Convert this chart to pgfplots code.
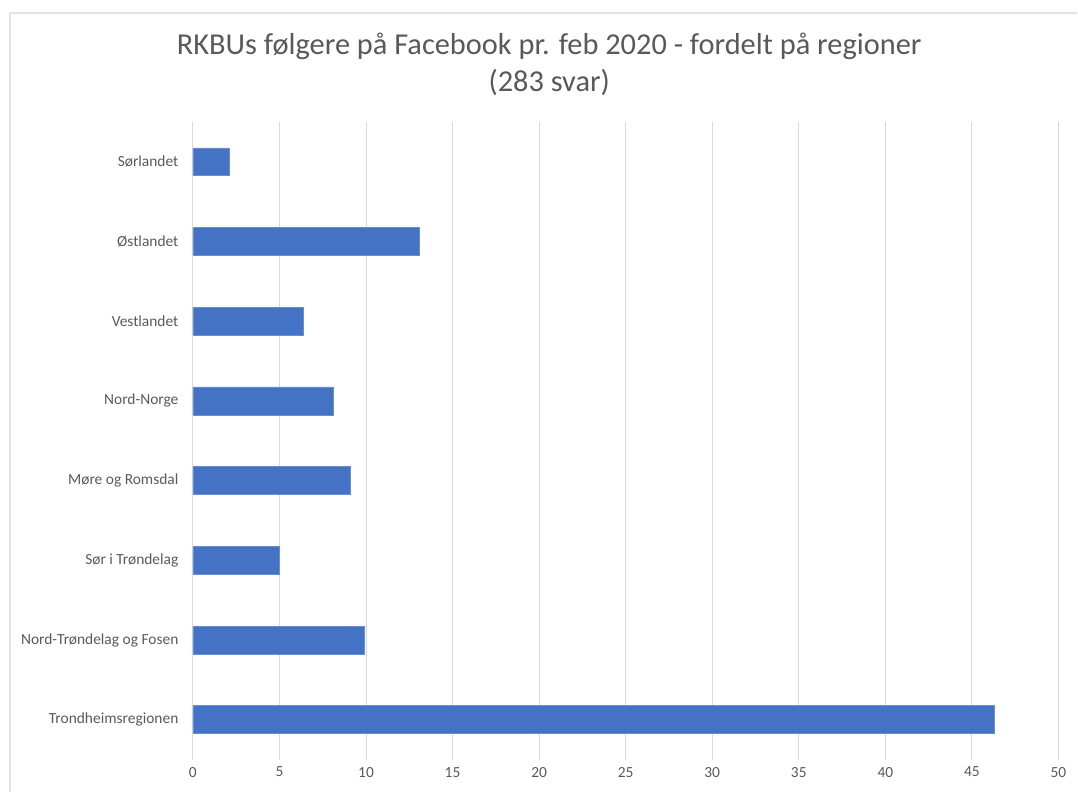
\documentclass[border=0pt]{standalone}
\usepackage{fontspec}
\setmainfont{Carlito}
\usepackage{pgfplots}
\pgfplotsset{compat=1.18}
\definecolor{barblue}{HTML}{4472C4}
\definecolor{txt}{HTML}{595959}
\definecolor{gridgray}{HTML}{D9D9D9}
\definecolor{framegray}{HTML}{E3E3E3}
\begin{document}
\begin{tikzpicture}[x=1bp,y=1bp]
\path (0,0) rectangle (1078,792);
\draw[framegray, line width=1.2bp] (10,0) -- (10,779) -- (1078,779);
\node[txt, font=\fontsize{30.5}{37}\selectfont, align=center] at (549.5,728) {RKBUs følgere på Facebook pr. feb 2020 - fordelt på regioner\\(283 svar)};
\begin{axis}[
  at={(193bp,32bp)}, anchor=south west,
  scale only axis, width=866bp, height=638bp,
  xbar, bar width=0.35,
  xmin=0, xmax=50, ymin=-0.5, ymax=7.5,
  xtick={0,5,...,50},
  ytick={0,...,7},
  yticklabels={Trondheimsregionen,Nord-Trøndelag og Fosen,Sør i Trøndelag,Møre og Romsdal,Nord-Norge,Vestlandet,Østlandet,Sørlandet},
  xmajorgrids=true, ymajorgrids=false,
  x grid style={draw=gridgray, line width=1bp},
  axis line style={draw=none},
  major tick length=0pt,
  tick label style={txt, font=\fontsize{15.5}{18}\selectfont},
  /pgf/number format/assume math mode=true,
  yticklabel style={xshift=-11bp},
  xticklabel style={yshift=-4bp},
]
\addplot[fill=barblue, draw=barblue!80!white, line width=0.6bp] coordinates {
(46.3,0) (9.9,1) (5.0,2) (9.1,3) (8.1,4) (6.4,5) (13.1,6) (2.1,7)};
\end{axis}
\end{tikzpicture}
\end{document}
